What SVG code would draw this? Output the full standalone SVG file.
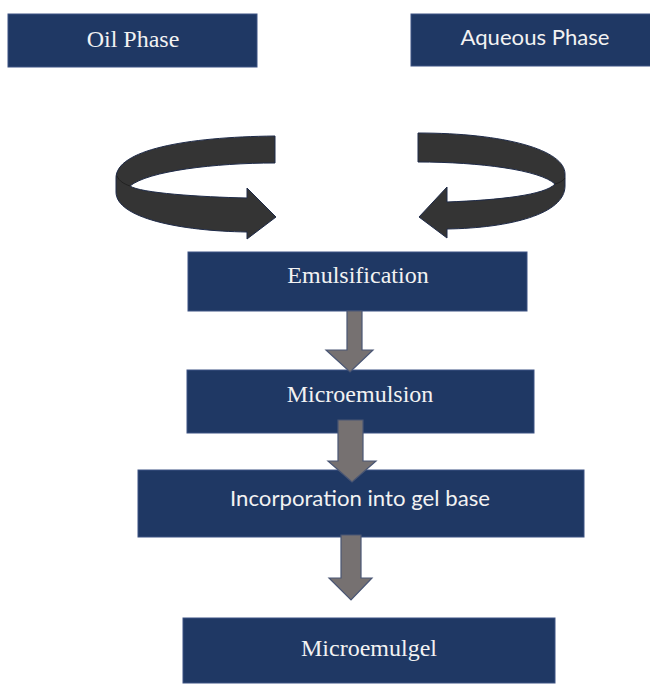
<svg xmlns="http://www.w3.org/2000/svg" width="650" height="685" viewBox="0 0 650 685">
<defs>
<style>
.box{fill:#1f3864;stroke:#3c5283;stroke-width:1}
.serif{font-family:"Liberation Serif","Times New Roman",serif;font-size:24px;fill:#f2f2f2;text-anchor:middle}
.sans{font-family:Lato,"Open Sans",sans-serif;font-size:22px;fill:#f2f2f2;text-anchor:middle}
.curl{fill:#343434;stroke:#1e2a48;stroke-width:1}
.down{fill:#767171;stroke:#4a5674;stroke-width:1.2}
</style>
</defs>
<rect width="650" height="685" fill="#ffffff"/>
<g id="oil-phase"><rect class="box" x="8" y="14" width="249" height="53"/><text class="serif" x="133" y="47">Oil Phase</text></g>
<g id="aqueous-phase"><rect class="box" x="411" y="14" width="240" height="52"/><text class="sans" x="535" y="45" textLength="149" lengthAdjust="spacingAndGlyphs">Aqueous Phase</text></g>
<g id="emulsification"><rect class="box" x="188" y="252" width="339" height="59"/><text class="serif" x="358" y="283">Emulsification</text></g>
<g id="microemulsion"><rect class="box" x="187" y="370" width="347" height="63"/><text class="serif" x="360" y="402">Microemulsion</text></g>
<g id="incorporation"><rect class="box" x="138" y="470" width="446" height="67"/><text class="sans" x="360" y="506" textLength="260" lengthAdjust="spacingAndGlyphs">Incorporation into gel base</text></g>
<g id="microemulgel"><rect class="box" x="183" y="618" width="372" height="65"/><text class="serif" x="369" y="656">Microemulgel</text></g>
<g id="connectors">
<path class="curl" d="M275,136 C185,137 116,150 116,178 L116,192 C116,218 180,231 247,232 L247,239 L276,217 L247,188 L247,198 C200,197 140,193 130,186 C148,171 215,163 275,163 Z"/>
<path d="M117,176 C119,181 124,184 130,186" fill="none" stroke="#222" stroke-width="1"/>
<path class="curl" d="M418,133 C505,133 565,150 565,174 L565,186 C565,214 510,228 447,229 L447,238 L419,217 L447,187 L447,202 C500,200 545,195 555,184 C540,170 480,162 418,162 Z"/>
<path d="M565,178 C563,181 559,183 555,184" fill="none" stroke="#222" stroke-width="1"/>
<path class="down" d="M347,311 L362,311 L362,350 L373,350 L350,372 L326,350 L347,350 Z"/>
<path class="down" d="M338,420 L363,420 L363,461 L376,461 L352,482 L328,461 L338,461 Z"/>
<path class="down" d="M341,535 L361,535 L361,578 L372,578 L351,600 L329,578 L341,578 Z"/>
</g>
</svg>
